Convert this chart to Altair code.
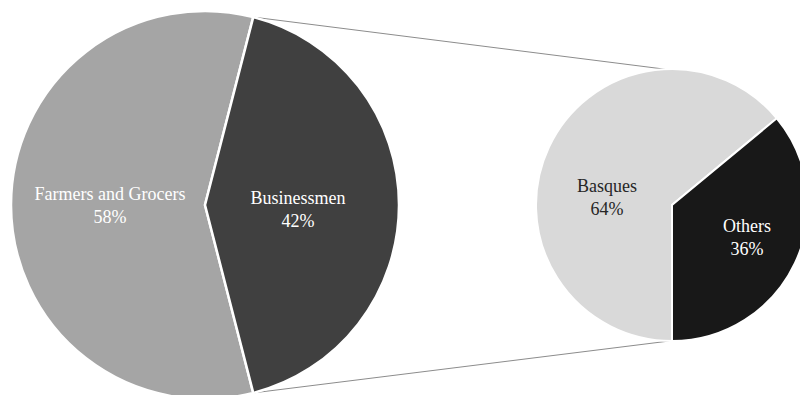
import math
import altair as alt
import pandas as pd

# ---- data ----
main_labels = ["Farmers and Grocers", "Businessmen"]
main_values = [58, 42]
main_colors = ["#a5a5a5", "#404040"]

sub_labels = ["Basques", "Others"]
sub_values = [64, 36]
sub_colors = ["#d9d9d9", "#181818"]

# ---- layout ----
W, H = 800, 395
C1 = (205, 205); R1 = 194
C2 = (672, 205); R2 = 136
FONT = "Liberation Serif"


def deg(d):
    return d * math.pi / 180.0


# main pie: Businessmen slice centred on the right (90 deg)
b_span = main_values[1] / sum(main_values) * 360.0
b0 = 90 - b_span / 2
b1 = 90 + b_span / 2
main_df = pd.DataFrame({
    "label": main_labels,
    "value": main_values,
    "t0": [deg(b1), deg(b0)],
    "t1": [deg(b0 + 360), deg(b1)],
})

# secondary pie: Others slice from bottom going counter-clockwise
o_span = sub_values[1] / sum(sub_values) * 360.0
sub_df = pd.DataFrame({
    "label": sub_labels,
    "value": sub_values,
    "t0": [deg(180), deg(180 - o_span)],
    "t1": [deg(540 - o_span), deg(180)],
})


def pie(df, labels, colors, c, r, sw):
    return alt.Chart(df).mark_arc(stroke="white", strokeWidth=sw).encode(
        theta=alt.Theta("t0:Q", scale=None),
        theta2=alt.Theta2("t1:Q"),
        color=alt.Color("label:N", scale=alt.Scale(domain=labels, range=colors), legend=None),
        x=alt.value(c[0]),
        y=alt.value(c[1]),
        radius=alt.value(r),
    )


def pt(c, r, a):
    return (c[0] + r * math.sin(deg(a)), c[1] - r * math.cos(deg(a)))


p_top = pt(C1, R1, b0)
p_bot = pt(C1, R1, b1)
q_top = pt(C2, R2, -3)
q_bot = pt(C2, R2, 181)

line_df = pd.DataFrame({"k": [0]})


def connector(a, b):
    return alt.Chart(line_df).mark_rule(color="#8c8c8c", strokeWidth=1).encode(
        x=alt.value(a[0]), y=alt.value(a[1]), x2=alt.value(b[0]), y2=alt.value(b[1])
    )


def label(name, val, total, pos, color):
    txt = f"{name}\n{round(val / total * 100)}%"
    return alt.Chart(pd.DataFrame({"t": [txt]})).mark_text(
        font=FONT, fontSize=18, lineBreak="\n", lineHeight=23,
        align="center", baseline="middle", color=color,
    ).encode(text="t:N", x=alt.value(pos[0]), y=alt.value(pos[1]))


layers = [
    connector(p_top, q_top),
    connector(p_bot, q_bot),
    pie(main_df, main_labels, main_colors, C1, R1, 2.5),
    pie(sub_df, sub_labels, sub_colors, C2, R2, 2),
    label(main_labels[0], main_values[0], sum(main_values), (110, 195), "white"),
    label(main_labels[1], main_values[1], sum(main_values), (298, 199), "white"),
    label(sub_labels[0], sub_values[0], sum(sub_values), (607, 187), "#262626"),
    label(sub_labels[1], sub_values[1], sum(sub_values), (747, 227), "white"),
]

chart = alt.layer(*layers).resolve_scale(color="independent").properties(
    width=W, height=H, autosize=alt.AutoSizeParams(type="none"), padding=0,
    background="white",
).configure_view(stroke=None)

chart.save("out.html", embed_options={"renderer": "svg", "actions": False})
